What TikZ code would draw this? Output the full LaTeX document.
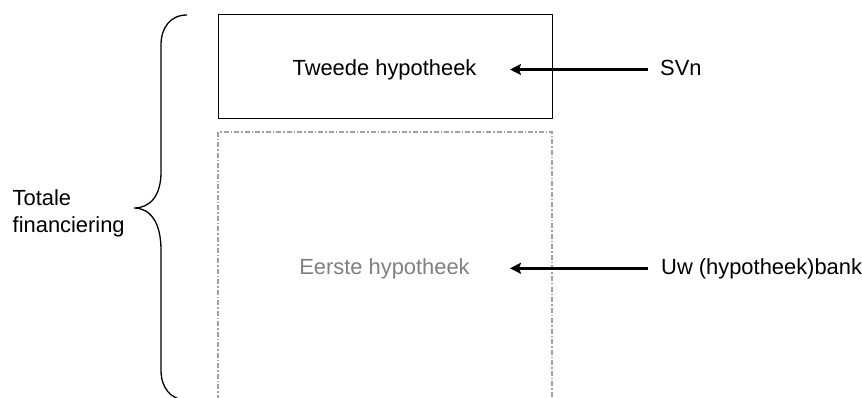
\documentclass[tikz,border=0pt]{standalone}
\usepackage{fontspec}
\setmainfont{Liberation Sans}
\usetikzlibrary{arrows.meta}
\definecolor{dgray}{RGB}{160,160,160}
\definecolor{tgray}{RGB}{128,128,128}
\tikzset{
  lbl/.style={inner sep=0pt, anchor=base, font=\fontsize{21.9}{27}\selectfont},
  box/.style={draw=black, line width=1pt},
  dbox/.style={draw=dgray, line width=1.5pt, dash pattern=on 5pt off 2pt on 1.5pt off 2pt},
  arr/.style={line width=2.4pt, -{Stealth[length=11pt,width=11pt,inset=2pt]}},
  brace/.style={line width=1.3pt}
}
\begin{document}
\begin{tikzpicture}[x=1pt,y=-1pt]
\useasboundingbox (0,0) rectangle (862,398);
\clip (0,0) rectangle (862,398);
\draw[box] (218,15) rectangle (552,119);
\draw[dbox] (218,410) -- (218,132) -- (552,132) -- (552,410);
\node[lbl] (tweede) at (384.5,76) {Tweede hypotheek};
\node[lbl, text=tgray] (eerste) at (384.5,274) {Eerste hypotheek};
\node[lbl, anchor=base west] (svn) at (660,76) {SVn};
\node[lbl, anchor=base west] (bank) at (661,274) {Uw (hypotheek)bank};
\node[lbl, anchor=base west] (tot) at (12.5,206) {Totale};
\node[lbl, anchor=base west] (fin) at (12.5,233) {financiering};
\coordinate (a1s) at (648,69.5);
\coordinate (a1e) at (510,69.5);
\coordinate (a2s) at (648,268.3);
\coordinate (a2e) at (510,268.3);
\draw[arr] (a1s) -- (a1e);
\draw[arr] (a2s) -- (a2e);
\coordinate (btop) at (187,15);
\coordinate (btip) at (134,208);
\coordinate (bbot) at (187,400);
\draw[brace] (btop) .. controls (170,15) and (161,28) .. (161,45)
  -- (161,172) .. controls (161,196) and (150,208) .. (btip)
  .. controls (150,208) and (161,222) .. (161,250)
  -- (161,370) .. controls (161,387) and (170,400) .. (bbot);
\end{tikzpicture}
\end{document}
